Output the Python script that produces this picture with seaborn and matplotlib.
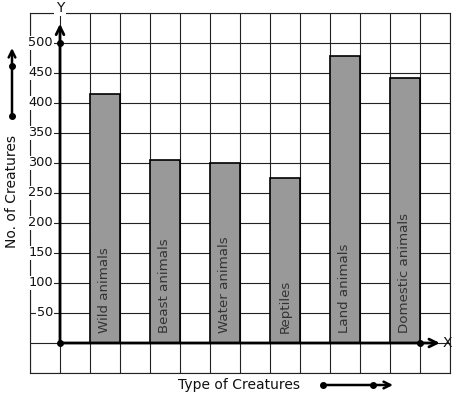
import matplotlib
matplotlib.use("Agg")
import matplotlib.pyplot as plt
import seaborn as sns
import pandas as pd
import numpy as np

categories = ["Wild animals", "Beast animals", "Water animals", "Reptiles", "Land animals", "Domestic animals"]
values = [415, 305, 300, 275, 478, 442]
y_ticks = [50, 100, 150, 200, 250, 300, 350, 400, 450, 500]

sns.set_theme(style="white")
plt.rcParams['font.family'] = ['DejaVu Sans']

df = pd.DataFrame({"creature": categories, "count": values})

W, H = 457, 399
fig = plt.figure(figsize=(W / 100, H / 100), dpi=100)
ax = fig.add_axes([30 / W, (H - 373) / H, 420 / W, 360 / H])

sns.barplot(data=df, x="creature", y="count", order=categories, color="#999999",
            width=0.5, saturation=1, edgecolor="black", linewidth=1.2, ax=ax, zorder=3)

ax.set_xlim(-1.25, 5.75)
ax.set_ylim(-50, 550)
ax.set_xticks(np.arange(-1.25, 5.76, 0.5))
ax.set_yticks(np.arange(-50, 551, 50))
ax.set_xticklabels([])
ax.set_yticklabels([])
ax.tick_params(length=0)
ax.grid(True, color="#222222", linewidth=0.8, zorder=0)
ax.set_axisbelow(True)
for s in ax.spines.values():
    s.set_color("#222222")
    s.set_linewidth(0.8)
ax.set_xlabel("")
ax.set_ylabel("")

x0 = -0.75  # y axis position
# bar labels
for i, name in enumerate(categories):
    ax.annotate(name, xy=(i, 0), xytext=(0, 10), textcoords="offset pixels",
                rotation=90, ha="center", va="bottom", fontsize=9.6, color="#333333", zorder=5)

# y tick labels with white background
for t in y_ticks:
    ax.annotate(str(t), xy=(x0, t), xytext=(-7, 0), textcoords="offset pixels",
                ha="right", va="center", fontsize=9.3, color="#111111", zorder=6,
                annotation_clip=False,
                bbox=dict(boxstyle="square,pad=0.05", fc="white", ec="none"))

# axes arrows
ax.annotate("", xy=(x0, 532), xytext=(x0, 0),
            arrowprops=dict(arrowstyle="->", lw=2.0, color="black", mutation_scale=14, shrinkA=0, shrinkB=0),
            zorder=7, annotation_clip=False)
ax.annotate("", xy=(5.58, 0), xytext=(x0, 0),
            arrowprops=dict(arrowstyle="->", lw=2.0, color="black", mutation_scale=14, shrinkA=0, shrinkB=0),
            zorder=7, annotation_clip=False)
ax.plot([x0, x0, 5.25], [0, 500, 0], "o", color="black", ms=4, zorder=8, clip_on=False)
ax.annotate("X", xy=(5.58, 0), xytext=(3, 0), textcoords="offset pixels",
            ha="left", va="center", fontsize=10, color="#111111", annotation_clip=False)
ax.annotate("Y", xy=(x0, 550), xytext=(0, 5), textcoords="offset pixels",
            ha="center", va="center", fontsize=10, color="#111111", annotation_clip=False,
            bbox=dict(boxstyle="square,pad=0.1", fc="white", ec="none"), zorder=9)

# axis titles
fig.text(12 / W, (H - 192) / H, "No. of Creatures", rotation=90, ha="center", va="center",
         fontsize=10, color="#111111")
fig.text(239 / W, (H - 385) / H, "Type of Creatures", ha="center", va="center",
         fontsize=10, color="#111111")

# decorative arrows
ap = dict(arrowstyle="->", lw=1.8, color="black", mutation_scale=12, shrinkA=0, shrinkB=0)
fig.add_artist(matplotlib.patches.FancyArrowPatch((12, H - 116), (12, H - 48),
               transform=None, **ap))
fig.add_artist(matplotlib.patches.FancyArrowPatch((323, H - 385), (393, H - 385),
               transform=None, **ap))
for (px, py) in [(12, 116), (12, 66), (323, 385), (373, 385)]:
    fig.add_artist(matplotlib.lines.Line2D([px], [H - py], marker="o", ms=4, color="black",
                                           transform=None))

fig.savefig("out.png", dpi=100)
